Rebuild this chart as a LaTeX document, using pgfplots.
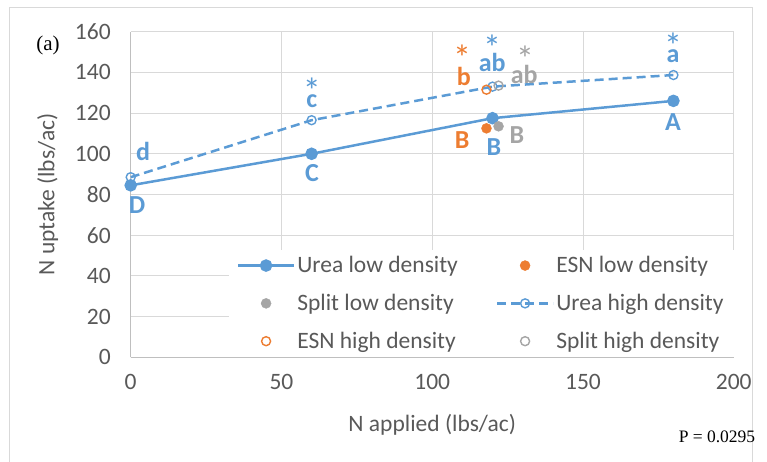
\documentclass[border=0pt]{standalone}
\usepackage{pgfplots}
\pgfplotsset{compat=1.18}
\usepackage{fontspec}
\setmainfont{Carlito}
\newfontfamily\timesfont{Liberation Serif}
\definecolor{cblue}{HTML}{5B9BD5}
\definecolor{corange}{HTML}{ED7D31}
\definecolor{cgray}{HTML}{A5A5A5}
\definecolor{ctext}{HTML}{595959}
\definecolor{cgrid}{HTML}{D9D9D9}
\definecolor{caxis}{HTML}{BFBFBF}
\newcommand{\fs}{\fontsize{23.5bp}{28bp}\selectfont}
\newcommand{\fl}{\fontsize{26bp}{30bp}\selectfont\bfseries}
\newcommand{\fa}{\fontsize{36bp}{40bp}\selectfont}
\begin{document}
\begin{tikzpicture}[x=1bp,y=1bp]
\path[use as bounding box] (0,0) rectangle (767,462);
\draw[cgrid,line width=0.8bp] (9,0) -- (9,455) -- (752,455) -- (752,0);
\node[font=\timesfont\fontsize{21bp}{25bp}\selectfont,anchor=center] at (48,417) {(a)};
\node[font=\timesfont\fontsize{17.5bp}{21bp}\selectfont,anchor=center] at (717,25) {P = 0.0295};
\begin{axis}[
  at={(130.7bp,104.7bp)}, anchor=south west,
  scale only axis, width=603bp, height=325.6bp,
  xmin=0, xmax=200, ymin=0, ymax=160,
  xtick={0,50,...,200}, ytick={0,20,...,160},
  grid=major, grid style={cgrid,line width=0.8bp},
  axis line style={caxis,line width=0.8bp},
  axis x line*=bottom, axis y line*=left,
  tick style={draw=none},
  tick label style={font=\fs, text=ctext},
  /pgf/number format/assume math mode=true,
  yticklabel style={xshift=-16.5bp},
  xticklabel style={yshift=-13bp},
  xlabel={N applied (lbs/ac)}, ylabel={N uptake (lbs/ac)},
  label style={font=\fs, text=ctext},
  xlabel style={yshift=-18bp},
  ylabel style={yshift=10bp},
  clip=false,
  legend columns=2,
  legend cell align=left,
  legend image code/.code={\draw[mark repeat=2,mark phase=2] plot coordinates {(0bp,0bp) (28bp,0bp) (56bp,0bp)};},
  legend style={at={(1,0)}, anchor=south east, fill=white, draw=none, font=\fs, text=ctext,
    inner xsep=8bp, inner ysep=5bp, row sep=16bp,
    nodes={inner sep=2bp},
    /tikz/every even column/.append style={column sep=36bp},
    /tikz/every odd column/.append style={column sep=0bp}},
]
\addplot[cblue, line width=2.5bp, mark=*, mark size=5bp, mark options={solid, fill=cblue}] coordinates {(0,84.5) (60,100) (120,117.5) (180,126)};
\addlegendentry{Urea low density}
\addplot[only marks, mark=*, mark size=5bp, corange, mark options={fill=corange}] coordinates {(118,112.5)};
\addlegendentry{ESN low density}
\addplot[only marks, mark=*, mark size=5bp, cgray, mark options={fill=cgray}] coordinates {(122,113.5)};
\addlegendentry{Split low density}
\addplot[cblue, line width=2.5bp, dash pattern=on 9bp off 5bp, mark=o, mark size=4.5bp, mark options={solid, line width=1.4bp}] coordinates {(0,88.5) (60,116.5) (120,133) (180,138.7)};
\addlegendentry{Urea high density}
\addplot[only marks, mark=o, mark size=4.5bp, corange, mark options={line width=1.4bp}] coordinates {(118,131.5)};
\addlegendentry{ESN high density}
\addplot[only marks, mark=o, mark size=4.5bp, cgray, mark options={line width=1.4bp}] coordinates {(122,133.5)};
\addlegendentry{Split high density}
% annotations
\tikzset{lbl/.style={font=\fl, inner sep=0pt}, ast/.style={font=\fa, inner sep=0pt}}
\node[lbl, text=cblue] at (axis cs:4.1,100.9) {d};
\node[lbl, text=cblue] at (axis cs:2.1,74.8) {D};
\node[ast, text=cblue] at (axis cs:60.1,131.1) {*};
\node[lbl, text=cblue] at (axis cs:60.1,125.9) {c};
\node[lbl, text=cblue] at (axis cs:60.1,90.6) {C};
\node[ast, text=cblue] at (axis cs:119.9,152.0) {*};
\node[lbl, text=cblue] at (axis cs:119.9,145.1) {ab};
\node[lbl, text=cblue] at (axis cs:120.5,103.3) {B};
\node[ast, text=corange] at (axis cs:109.9,147.1) {*};
\node[lbl, text=corange] at (axis cs:110.5,138.2) {b};
\node[lbl, text=corange] at (axis cs:109.9,106.8) {B};
\node[ast, text=cgray] at (axis cs:130.8,146.8) {*};
\node[lbl, text=cgray] at (axis cs:130.5,139.2) {ab};
\node[lbl, text=cgray] at (axis cs:128.1,109.2) {B};
\node[ast, text=cblue] at (axis cs:179.9,153.2) {*};
\node[lbl, text=cblue] at (axis cs:179.9,148.0) {a};
\node[lbl, text=cblue] at (axis cs:179.9,115.6) {A};
\end{axis}
\end{tikzpicture}
\end{document}
